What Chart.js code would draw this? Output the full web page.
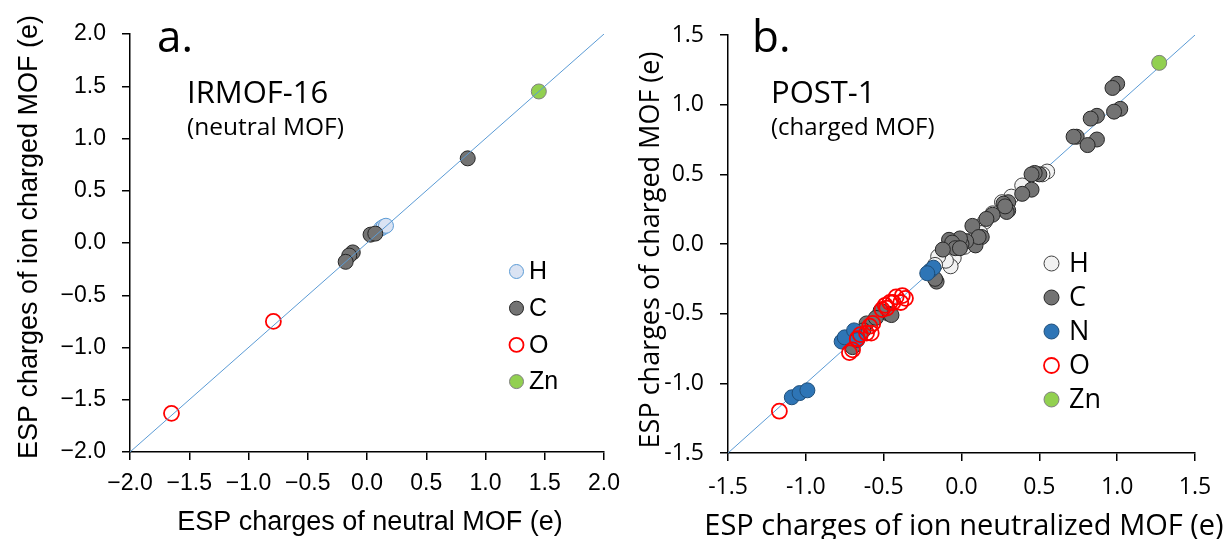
<!DOCTYPE html>
<html>
<head>
<meta charset="utf-8">
<script src="https://cdn.jsdelivr.net/npm/chart.js@4.4.1/dist/chart.umd.min.js"></script>
<style>
  html, body { margin: 0; padding: 0; background: #fff; }
  #wrap { position: relative; width: 1228px; height: 539px; overflow: hidden; }
  canvas { position: absolute; top: 0; }
  #chartA { left: 0; }
  #chartB { left: 614px; }
</style>
</head>
<body>
<div id="wrap">
  <canvas id="chartA" width="640" height="539"></canvas>
  <canvas id="chartB" width="614" height="539"></canvas>
</div>
<script>
//---------------------------------------------------------------------
// DONNÉES
//---------------------------------------------------------------------
const ticksA = [-2.0, -1.5, -1.0, -0.5, 0.0, 0.5, 1.0, 1.5, 2.0];
const ticksB = [-1.5, -1.0, -0.5, 0.0, 0.5, 1.0, 1.5];
const diagA = [-2, 2];
const diagB = [-1.5, 1.5];

// a. IRMOF-16
const aHx = [0.12, 0.14, 0.16];
const aHy = [0.14, 0.155, 0.165];
const aCx = [0.85, 0.03, 0.07, -0.12, -0.15, -0.18];
const aCy = [0.81, 0.08, 0.09, -0.09, -0.12, -0.18];
const aOx = [-0.79, -1.65];
const aOy = [-0.75, -1.63];
const aZnx = [1.45];
const aZny = [1.45];

// b. POST-1
const bHx = [0.55, 0.52, 0.39, 0.32, 0.26, 0.15, 0.10, 0.02, -0.05, -0.07, -0.10, -0.15, -0.17, 0.05, 0.20, -0.02, 0.12];
const bHy = [0.52, 0.50, 0.42, 0.34, 0.30, 0.16, 0.12, -0.02, -0.10, -0.16, -0.12, -0.09, -0.15, 0.02, 0.22, 0.03, 0.08];
const bCx = [1.00, 0.97, 1.02, 0.98, 0.87, 0.83, 0.74, 0.72, 0.87, 0.81,
             0.50, 0.47, 0.45, 0.45, 0.39, 0.30, 0.27, 0.30, 0.29, 0.28, 0.20, 0.16, 0.07, 0.13, 0.09, 0.11,
             0.03, 0.00, -0.01, -0.08, -0.06, -0.04, -0.12, -0.01, -0.16, -0.17,
             -0.61, -0.47, -0.45, -0.70, -0.63, -0.52, -0.55];
const bCy = [1.15, 1.12, 0.97, 0.95, 0.92, 0.90, 0.77, 0.77, 0.75, 0.71,
             0.50, 0.51, 0.50, 0.39, 0.36, 0.30, 0.29, 0.24, 0.23, 0.27, 0.21, 0.18, 0.13, 0.05, -0.01, 0.05,
             0.02, 0.00, 0.04, 0.03, 0.01, -0.03, -0.04, -0.03, -0.27, -0.25,
             -0.57, -0.50, -0.51, -0.74, -0.62, -0.48, -0.53];
const bNx = [-1.09, -1.04, -0.99, -0.77, -0.75, -0.69, -0.67, -0.20, -0.18, -0.22];
const bNy = [-1.10, -1.07, -1.05, -0.70, -0.67, -0.62, -0.69, -0.19, -0.17, -0.21];
const bOx = [-1.17, -0.72, -0.70, -0.67, -0.65, -0.61, -0.58, -0.59, -0.57, -0.51, -0.49, -0.46, -0.42, -0.38, -0.36, -0.39, -0.44, -0.48];
const bOy = [-1.20, -0.78, -0.76, -0.68, -0.65, -0.64, -0.64, -0.59, -0.57, -0.47, -0.44, -0.42, -0.38, -0.37, -0.39, -0.42, -0.42, -0.46];
const bZnx = [1.27];
const bZny = [1.30];

const pts = (xs, ys) => xs.map((x, i) => ({ x: x, y: ys[i] }));

//---------------------------------------------------------------------
// PLUGINS : textes et légende
//---------------------------------------------------------------------
const panelText = {
    id: 'panelText',
    afterDraw(chart, args, opts) {
        const ctx = chart.ctx;
        opts.items.forEach(it => {
            ctx.save();
            ctx.translate(it.x, it.y);
            if (it.rotate) ctx.rotate(it.rotate);
            ctx.font = it.font;
            ctx.fillStyle = '#000';
            ctx.textAlign = it.align || 'left';
            ctx.textBaseline = it.baseline || 'alphabetic';
            ctx.fillText(it.text, 0, 0);
            ctx.restore();
        });
    }
};

const markerLegend = {
    id: 'markerLegend',
    afterDraw(chart, args, opts) {
        const ctx = chart.ctx;
        chart.data.datasets.filter(d => d.label).forEach((d, i) => {
            const y = opts.y + i * opts.gap;
            ctx.save();
            ctx.beginPath();
            ctx.arc(opts.x, y, opts.r, 0, Math.PI * 2);
            ctx.fillStyle = d.backgroundColor;
            ctx.fill();
            ctx.lineWidth = d.borderWidth;
            ctx.strokeStyle = d.borderColor;
            ctx.stroke();
            ctx.font = opts.font;
            ctx.fillStyle = '#000';
            ctx.textBaseline = 'middle';
            ctx.fillText(d.label, opts.textX, y + 1);
            ctx.restore();
        });
    }
};

function axe(ticks, fmt, fontFamily, fontSize, pad, fitSize, isY) {
    return {
        type: 'linear',
        min: ticks[0],
        max: ticks[ticks.length - 1],
        afterBuildTicks: s => { s.ticks = ticks.map(v => ({ value: v })); },
        afterFit: s => { if (isY) s.width = fitSize; else s.height = fitSize; },
        grid: { drawOnChartArea: false, drawTicks: true, tickLength: 8, color: '#000', lineWidth: 1.5 },
        border: { display: true, color: '#000', width: 1.5 },
        ticks: {
            color: '#000',
            padding: pad,
            maxRotation: 0,
            font: { family: fontFamily, size: fontSize },
            callback: fmt
        },
        title: { display: false }
    };
}

//---------------------------------------------------------------------
// GRAPH a. IRMOF-16
//---------------------------------------------------------------------
const fmtA = v => (v < 0 ? '\u2212' : '') + Math.abs(v).toFixed(1);

new Chart(document.getElementById('chartA'), {
    type: 'scatter',
    data: {
        datasets: [
            { data: pts(diagA, diagA), showLine: true, borderColor: '#5b9bd5', borderWidth: 1, pointRadius: 0, order: 0 },
            { label: 'H', data: pts(aHx, aHy), backgroundColor: '#dae3f3', borderColor: '#5b9bd5', borderWidth: 1, pointRadius: 7.5, order: 5 },
            { label: 'C', data: pts(aCx, aCy), backgroundColor: '#737373', borderColor: '#262626', borderWidth: 1, pointRadius: 7.5, order: 4 },
            { label: 'O', data: pts(aOx, aOy), backgroundColor: 'rgba(255,255,255,0)', borderColor: '#ff0000', borderWidth: 1.8, pointRadius: 7.5, order: 3 },
            { label: 'Zn', data: pts(aZnx, aZny), backgroundColor: '#92d050', borderColor: '#7f7f7f', borderWidth: 1, pointRadius: 7.5, order: 2 }
        ]
    },
    options: {
        responsive: false,
        animation: false,
        devicePixelRatio: 1,
        layout: { padding: { left: 0, top: 34, right: 36, bottom: 0 } },
        scales: {
            x: axe(ticksA, fmtA, 'Liberation Sans', 23, 10, 87, false),
            y: axe(ticksA, fmtA, 'Liberation Sans', 23, 16, 130, true)
        },
        plugins: {
            legend: { display: false },
            tooltip: { enabled: false },
            panelText: {
                items: [
                    { text: 'a.', x: 157, y: 52, font: '44px "Open Sans"' },
                    { text: 'IRMOF-16', x: 187, y: 103, font: '31px "Open Sans"' },
                    { text: '(neutral MOF)', x: 187, y: 135, font: '24.5px "Open Sans"' },
                    { text: 'ESP charges of neutral MOF (e)', x: 370, y: 523, font: '27px "Liberation Sans"', align: 'center', baseline: 'middle' },
                    { text: 'ESP charges of ion charged MOF (e)', x: 30, y: 237, font: '27px "Liberation Sans"', align: 'center', baseline: 'middle', rotate: -Math.PI / 2 }
                ]
            },
            markerLegend: { x: 516.5, y: 271.5, gap: 36.7, r: 7, textX: 529, font: '25px "Liberation Sans"' }
        }
    },
    plugins: [panelText, markerLegend]
});

//---------------------------------------------------------------------
// GRAPH b. POST-1
//---------------------------------------------------------------------
const fmtB = v => v.toFixed(1);

new Chart(document.getElementById('chartB'), {
    type: 'scatter',
    data: {
        datasets: [
            { data: pts(diagB, diagB), showLine: true, borderColor: '#5b9bd5', borderWidth: 1, pointRadius: 0, order: 9 },
            { label: 'H', data: pts(bHx, bHy), backgroundColor: '#f2f2f2', borderColor: '#404040', borderWidth: 1, pointRadius: 7.5, order: 6 },
            { label: 'C', data: pts(bCx, bCy), backgroundColor: '#737373', borderColor: '#262626', borderWidth: 1, pointRadius: 7.5, order: 5 },
            { label: 'N', data: pts(bNx, bNy), backgroundColor: '#2e75b6', borderColor: '#1f4e79', borderWidth: 1, pointRadius: 7.5, order: 4 },
            { label: 'O', data: pts(bOx, bOy), backgroundColor: 'rgba(255,255,255,0)', borderColor: '#ff0000', borderWidth: 1.8, pointRadius: 7.5, order: 3 },
            { label: 'Zn', data: pts(bZnx, bZny), backgroundColor: '#92d050', borderColor: '#7f7f7f', borderWidth: 1, pointRadius: 7.5, order: 2 }
        ]
    },
    options: {
        responsive: false,
        animation: false,
        devicePixelRatio: 1,
        layout: { padding: { left: 0, top: 35, right: 33, bottom: 0 } },
        scales: {
            x: axe(ticksB, fmtB, 'Open Sans', 23, 13, 86, false),
            y: axe(ticksB, fmtB, 'Open Sans', 23, 16, 114, true)
        },
        plugins: {
            legend: { display: false },
            tooltip: { enabled: false },
            panelText: {
                items: [
                    { text: 'b.', x: 138, y: 52, font: '44px "Open Sans"' },
                    { text: 'POST-1', x: 157, y: 103, font: '31px "Open Sans"' },
                    { text: '(charged MOF)', x: 157, y: 135, font: '24px "Open Sans"' },
                    { text: 'ESP charges of ion neutralized MOF (e)', x: 350, y: 527, font: '29px "Open Sans"', align: 'center', baseline: 'middle' },
                    { text: 'ESP charges of charged MOF (e)', x: 37, y: 250, font: '27px "Open Sans"', align: 'center', baseline: 'middle', rotate: -Math.PI / 2 }
                ]
            },
            markerLegend: { x: 437.5, y: 263.5, gap: 34, r: 7.5, textX: 455, font: '27px "Open Sans"' }
        }
    },
    plugins: [panelText, markerLegend]
});
</script>
</body>
</html>
